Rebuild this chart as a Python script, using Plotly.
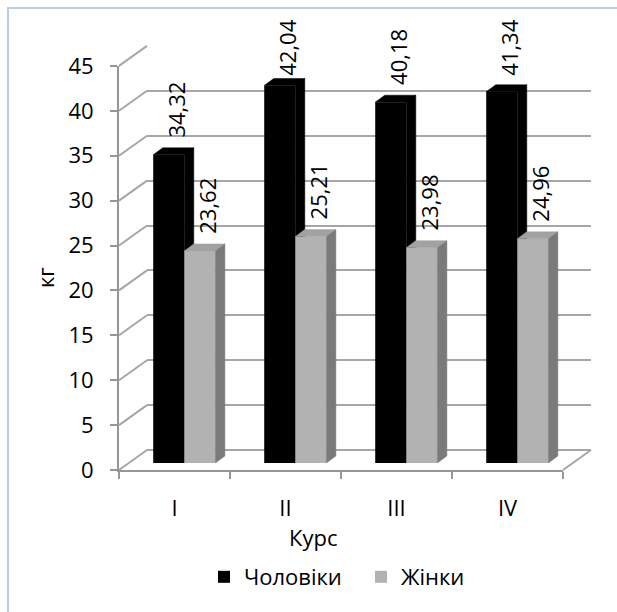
import plotly.graph_objects as go

# ---- data -------------------------------------------------------------
courses = ["I", "II", "III", "IV"]
men = [34.32, 42.04, 40.18, 41.34]
women = [23.62, 25.21, 23.98, 24.96]
series_names = ["Чоловіки", "Жінки"]
y_ticks = list(range(0, 50, 5))
y_max = 45
x_title = "Курс"
y_title = "кг"

# ---- projected box geometry (pixels) -----------------------------------
W, H = 617, 612
FX0, FX1 = 119, 563          # front edge of the floor
FY0 = 470                    # front baseline (0 kg)
KG_PX = 8.98                 # pixels per kg
BACK_DX, BACK_DY = 28, -20   # offset of the back wall
BAR_DEPTH = 0.35             # columns stand at this fraction of the depth
FACE_DX, FACE_DY = 9.5, -7   # extrusion of each column

FONT = "Open Sans"
TXT = 22
GRID = "#a6a6a6"
AXIS = "#969696"
MEN_C = "#000000"
WOM_FRONT, WOM_SIDE, WOM_TOP = "#b2b2b2", "#7a7a7a", "#a2a2a2"


def px(x):
    return x / W


def py(y):
    return 1 - y / H


def layer_domain(dx, dy):
    yb = FY0 + dy
    yt = yb - y_max * KG_PX
    return [px(FX0 + dx), px(FX1 + dx)], [py(yb), py(yt)]


n = len(courses)
cat_px = (FX1 - FX0) / n
bargap = 0.44
bw = (1 - bargap) / 2
ddx = FACE_DX / cat_px
ddy = -FACE_DY / KG_PX

centers = [i + 0.5 for i in range(n)]
men_x = [c - bw / 2 for c in centers]
wom_x = [c + bw / 2 for c in centers]


def top_faces(xs, vals):
    X, Y = [], []
    for xc, v in zip(xs, vals):
        xl, xr = xc - bw / 2, xc + bw / 2
        X += [xl, xl + ddx, xr + ddx, xr, xl, None]
        Y += [v, v + ddy, v + ddy, v, v, None]
    return X, Y


def side_faces(xs, vals):
    X, Y = [], []
    for xc, v in zip(xs, vals):
        xr = xc + bw / 2
        X += [xr, xr + ddx, xr + ddx, xr, xr, None]
        Y += [0, ddy, v + ddy, v, 0, None]
    return X, Y


fig = go.Figure()

# back wall carrier (x / y)
fig.add_trace(go.Scatter(x=[None], y=[None], xaxis="x", yaxis="y",
                         showlegend=False, hoverinfo="skip"))

# men's columns (x2 / y2)
fig.add_trace(go.Bar(x=men_x, y=men, width=bw, name=series_names[0],
                     marker=dict(color=MEN_C, line=dict(width=0)),
                     xaxis="x2", yaxis="y2"))
mx, my = top_faces(men_x, men)
sx, sy = side_faces(men_x, men)
fig.add_trace(go.Scatter(x=mx + sx, y=my + sy, fill="toself", mode="lines",
                         fillcolor=MEN_C, line=dict(color=MEN_C, width=0.5),
                         xaxis="x2", yaxis="y2", showlegend=False, hoverinfo="skip"))

# women's columns (x3 / y3), drawn over the men's side faces
fig.add_trace(go.Bar(x=wom_x, y=women, width=bw, name=series_names[1],
                     marker=dict(color=WOM_FRONT, line=dict(width=0)),
                     xaxis="x3", yaxis="y3"))
tx, ty = top_faces(wom_x, women)
fig.add_trace(go.Scatter(x=tx, y=ty, fill="toself", mode="lines",
                         fillcolor=WOM_TOP, line=dict(color=WOM_TOP, width=0.5),
                         xaxis="x3", yaxis="y3", showlegend=False, hoverinfo="skip"))
sx, sy = side_faces(wom_x, women)
fig.add_trace(go.Scatter(x=sx, y=sy, fill="toself", mode="lines",
                         fillcolor=WOM_SIDE, line=dict(color=WOM_SIDE, width=0.5),
                         xaxis="x3", yaxis="y3", showlegend=False, hoverinfo="skip"))

# front axes carrier (x4 / y4)
fig.add_trace(go.Scatter(x=[None], y=[None], xaxis="x4", yaxis="y4",
                         showlegend=False, hoverinfo="skip"))

back_x, back_y = layer_domain(BACK_DX, BACK_DY)
bar_x, bar_y = layer_domain(BAR_DEPTH * BACK_DX, BAR_DEPTH * BACK_DY)
front_x, front_y = layer_domain(0, 0)

# ---- value labels above the columns -----------------------------------
LABEL_LEN = 58
LABEL_GAP = 15
TOP_LIMIT = 20
bar_base = FY0 + BAR_DEPTH * BACK_DY
annotations = []
for xs, vals, ax in ((men_x, men, "2"), (wom_x, women, "3")):
    for xc, v in zip(xs, vals):
        top_px = bar_base - v * KG_PX
        shift = LABEL_GAP
        if top_px - shift - LABEL_LEN < TOP_LIMIT:
            shift = top_px - LABEL_LEN - TOP_LIMIT
        annotations.append(dict(
            x=xc, y=v, xref="x" + ax, yref="y" + ax,
            text=f"{v:.2f}".replace(".", ","),
            textangle=-90, showarrow=False, xanchor="center", yanchor="bottom",
            xshift=7, yshift=shift, font=dict(family=FONT, size=TXT, color="black")))

annotations.append(dict(x=px(313), y=py(537), xref="paper", yref="paper",
                        text=x_title, showarrow=False, xanchor="center", yanchor="middle",
                        font=dict(family=FONT, size=TXT, color="black")))
annotations.append(dict(x=px(45), y=py(277), xref="paper", yref="paper",
                        text=y_title, textangle=-90, showarrow=False,
                        xanchor="center", yanchor="middle",
                        font=dict(family=FONT, size=TXT, color="black")))

# ---- side wall, floor edge and chart border ----------------------------
shapes = []
for t in y_ticks:
    yf = FY0 - t * KG_PX
    shapes.append(dict(type="line", xref="paper", yref="paper", layer="below",
                       x0=px(FX0), y0=py(yf), x1=px(FX0 + BACK_DX), y1=py(yf + BACK_DY),
                       line=dict(color=GRID, width=2)))
shapes.append(dict(type="line", xref="paper", yref="paper", layer="below",
                   x0=px(FX1), y0=py(FY0), x1=px(FX1 + BACK_DX), y1=py(FY0 + BACK_DY),
                   line=dict(color=GRID, width=2)))
shapes.append(dict(type="rect", xref="paper", yref="paper", layer="below",
                   x0=px(8), y0=-0.2, x1=1.2, y1=py(8),
                   line=dict(color="#b9cde5", width=2)))


def hidden_x(dom, anchor):
    return dict(visible=False, range=[0, n], domain=dom, anchor=anchor, fixedrange=True)


def hidden_y(dom, anchor):
    return dict(visible=False, range=[0, y_max], domain=dom, anchor=anchor, fixedrange=True)


fig.update_layout(
    width=W, height=H,
    margin=dict(l=0, r=0, t=0, b=0, pad=0, autoexpand=False),
    paper_bgcolor="white", plot_bgcolor="rgba(0,0,0,0)",
    barmode="overlay",
    font=dict(family=FONT, size=TXT, color="black"),
    showlegend=True,
    legend=dict(orientation="h", x=px(204), xanchor="left", y=py(577), yanchor="middle",
                font=dict(family=FONT, size=TXT, color="black"),
                bgcolor="rgba(0,0,0,0)", traceorder="normal",
                entrywidth=112, entrywidthmode="pixels"),
    # back wall with its gridlines
    xaxis=hidden_x(back_x, "y"),
    yaxis=dict(domain=back_y, anchor="x", range=[0, y_max],
               tickmode="array", tickvals=y_ticks,
               showgrid=True, gridcolor=GRID, gridwidth=2,
               zeroline=True, zerolinecolor=GRID, zerolinewidth=2,
               showticklabels=False, ticks="", showline=False, fixedrange=True),
    xaxis2=hidden_x(bar_x, "y2"),
    yaxis2=hidden_y(bar_y, "x2"),
    xaxis3=hidden_x(bar_x, "y3"),
    yaxis3=hidden_y(bar_y, "x3"),
    # front axes
    xaxis4=dict(domain=front_x, anchor="y4", range=[0, n],
                tickmode="array", tickvals=centers, ticktext=courses,
                ticks="", showgrid=False, zeroline=False,
                showline=True, linecolor=AXIS, linewidth=2,
                minor=dict(ticks="outside", tick0=0, dtick=1, ticklen=7,
                           tickcolor=AXIS, tickwidth=2, showgrid=False),
                ticklabelstandoff=18,
                tickfont=dict(family=FONT, size=TXT, color="black"), fixedrange=True),
    yaxis4=dict(domain=front_y, anchor="x4", range=[0, y_max],
                tickmode="array", tickvals=y_ticks,
                ticks="outside", ticklen=7, tickcolor=AXIS, tickwidth=2,
                showline=True, linecolor=AXIS, linewidth=2,
                showgrid=False, zeroline=False, ticklabelstandoff=12,
                tickfont=dict(family=FONT, size=TXT, color="black"), fixedrange=True),
    annotations=annotations,
    shapes=shapes,
)

fig.write_html("out.html")
